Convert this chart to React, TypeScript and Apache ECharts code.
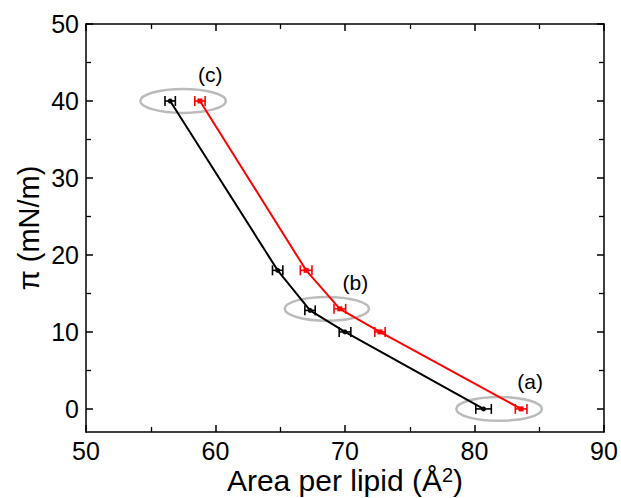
import React, { useEffect, useRef } from "react";
import * as echarts from "echarts";

const blackX = [56.5, 64.8, 67.3, 70.0, 80.7];
const blackY = [40, 18, 12.8, 10, 0];
const blackErr = [0.4, 0.4, 0.4, 0.45, 0.6];
const redX = [58.8, 67.0, 69.6, 72.7, 83.6];
const redY = [40, 18, 13, 10, 0];
const redErr = [0.4, 0.45, 0.45, 0.4, 0.45];

const yMajorTicks = [0, 10, 20, 30, 40, 50];
const yMinorTicks = [5, 15, 25, 35, 45];

const ellipseCX = [57.5, 68.6, 81.9];
const ellipseCY = [40, 13, 0];
const ellipseRX = [3.3, 3.25, 3.3];
const ellipseRY = [1.55, 1.55, 1.55];

const labelText = ["(c)", "(b)", "(a)"];
const labelX = [59.6, 70.8, 84.3];
const labelY = [43.4, 16.4, 3.5];

const FONT = "'Liberation Sans', Arial, sans-serif";

function errSeries(xs: number[], ys: number[], es: number[], color: string) {
  return {
    type: "custom",
    xAxisIndex: 0,
    yAxisIndex: 0,
    z: 4,
    data: xs.map((x, i) => [x, ys[i], es[i]]),
    renderItem: (params: any, api: any) => {
      const x = api.value(0);
      const y = api.value(1);
      const e = api.value(2);
      const p1 = api.coord([x - e, y]);
      const p2 = api.coord([x + e, y]);
      const cap = 5;
      const style = { stroke: color, lineWidth: 1.6 };
      return {
        type: "group",
        children: [
          { type: "line", shape: { x1: p1[0], y1: p1[1], x2: p2[0], y2: p2[1] }, style },
          { type: "line", shape: { x1: p1[0], y1: p1[1] - cap, x2: p1[0], y2: p1[1] + cap }, style },
          { type: "line", shape: { x1: p2[0], y1: p2[1] - cap, x2: p2[0], y2: p2[1] + cap }, style },
        ],
      };
    },
  };
}

export default function App() {
  const ref = useRef<HTMLDivElement>(null);
  useEffect(() => {
    if (!ref.current) return;
    const chart = echarts.init(ref.current, null, { renderer: "svg" });
    const axisLine = { show: true, onZero: false, lineStyle: { color: "#000", width: 1.5 } };
    const noLine = { show: false, onZero: false };
    const axisTick = { show: true, inside: true, length: 7, lineStyle: { color: "#000", width: 1.5 } };
    const minorTick = { show: true, splitNumber: 2, length: 5, lineStyle: { color: "#000", width: 1.3 } };
    const yMinor = {
      show: true,
      inside: true,
      length: 5,
      customValues: yMinorTicks,
      lineStyle: { color: "#000", width: 1.3 },
    };
    const yBase = { type: "value", min: -3, max: 50, splitLine: { show: false } };
    const option: any = {
      animation: false,
      backgroundColor: "#fff",
      textStyle: { fontFamily: FONT },
      grid: { left: 86, right: 17, top: 24, bottom: 66, containLabel: false, outerBoundsMode: "none" },
      xAxis: [
        {
          type: "value",
          min: 50,
          max: 90,
          interval: 10,
          position: "bottom",
          axisLine,
          axisTick,
          minorTick: { ...minorTick },
          splitLine: { show: false },
          axisLabel: { color: "#000", fontSize: 25, fontFamily: FONT, margin: 6 },
          name: "Area per lipid (Å{sup|2})",
          nameLocation: "middle",
          nameGap: 33,
          nameMoveOverlap: false,
          nameTextStyle: {
            color: "#000",
            fontSize: 30,
            lineHeight: 30,
            fontFamily: FONT,
            rich: { sup: { fontSize: 20, lineHeight: 20, verticalAlign: "top", padding: [0, 0, 6, 0], fontFamily: FONT, color: "#000" } },
          },
        },
        {
          type: "value",
          min: 50,
          max: 90,
          interval: 10,
          position: "top",
          axisLine,
          axisTick,
          minorTick: { ...minorTick },
          splitLine: { show: false },
          axisLabel: { show: false },
        },
      ],
      yAxis: [
        {
          ...yBase,
          position: "left",
          axisLine,
          axisTick: { ...axisTick, customValues: yMajorTicks },
          axisLabel: {
            color: "#000",
            fontSize: 25,
            fontFamily: FONT,
            margin: 7,
            customValues: yMajorTicks,
          },
          name: "π (mN/m)",
          nameLocation: "middle",
          nameGap: 43,
          nameMoveOverlap: false,
          nameTextStyle: { color: "#000", fontSize: 29, fontFamily: FONT },
        },
        {
          ...yBase,
          position: "right",
          axisLine,
          axisTick: { ...axisTick, customValues: yMajorTicks },
          axisLabel: { show: false },
        },
        {
          ...yBase,
          position: "left",
          axisLine: noLine,
          axisTick: yMinor,
          axisLabel: { show: false },
        },
        {
          ...yBase,
          position: "right",
          axisLine: noLine,
          axisTick: yMinor,
          axisLabel: { show: false },
        },
      ],
      series: [
        {
          type: "custom",
          xAxisIndex: 0,
          yAxisIndex: 0,
          z: 1,
          data: ellipseCX.map((x, i) => [x, ellipseCY[i], ellipseRX[i], ellipseRY[i]]),
          renderItem: (params: any, api: any) => {
            const c = api.coord([api.value(0), api.value(1)]);
            const r = api.coord([api.value(0) + api.value(2), api.value(1) + api.value(3)]);
            return {
              type: "ellipse",
              shape: { cx: c[0], cy: c[1], rx: Math.abs(r[0] - c[0]), ry: Math.abs(c[1] - r[1]) },
              style: { fill: "none", stroke: "#bbbbbb", lineWidth: 2.5 },
            };
          },
        },
        {
          type: "custom",
          xAxisIndex: 0,
          yAxisIndex: 0,
          z: 5,
          data: labelX.map((x, i) => [x, labelY[i], i]),
          renderItem: (params: any, api: any) => {
            const p = api.coord([api.value(0), api.value(1)]);
            return {
              type: "text",
              x: p[0],
              y: p[1],
              style: {
                text: labelText[api.value(2)],
                fill: "#000",
                fontSize: 21,
                fontFamily: FONT,
                align: "center",
                verticalAlign: "middle",
              },
            };
          },
        },
        {
          type: "line",
          xAxisIndex: 0,
          yAxisIndex: 0,
          z: 3,
          data: redX.map((x, i) => [x, redY[i]]),
          lineStyle: { color: "#ff0000", width: 2 },
          itemStyle: { color: "#ff0000" },
          symbol: "rect",
          symbolSize: 5,
        },
        {
          type: "line",
          xAxisIndex: 0,
          yAxisIndex: 0,
          z: 3,
          data: blackX.map((x, i) => [x, blackY[i]]),
          lineStyle: { color: "#000", width: 2 },
          itemStyle: { color: "#000" },
          symbol: "circle",
          symbolSize: 5,
        },
        errSeries(redX, redY, redErr, "#ff0000"),
        errSeries(blackX, blackY, blackErr, "#000"),
      ],
    };
    chart.setOption(option);
    return () => chart.dispose();
  }, []);
  return <div ref={ref} style={{ position: "absolute", left: 0, top: 0, width: 621, height: 498 }} />;
}
